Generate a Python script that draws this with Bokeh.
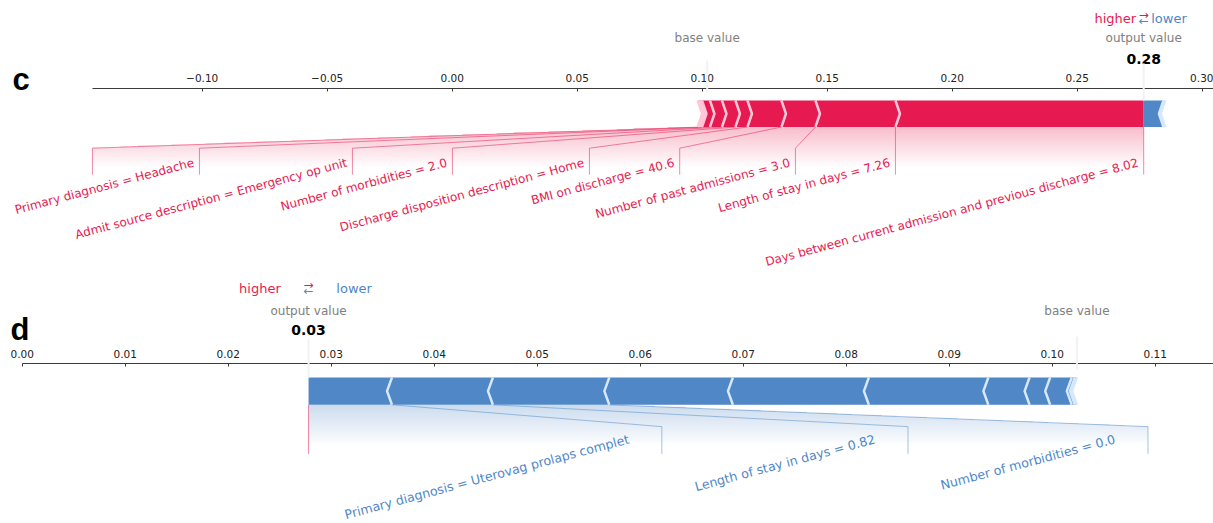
import numpy as np
from bokeh.plotting import figure
from bokeh.models import Range1d, LinearAxis, FixedTicker
from bokeh.layouts import column
from bokeh.core.properties import value
from bokeh.embed import file_html
from bokeh.resources import INLINE

# ---------------- data: panel c ----------------
c_base_value = 0.1020
c_output_value = 0.2766
c_pos_features = ["Days between current admission and previous discharge",
                  "Length of stay in days", "Number of past admissions",
                  "BMI on discharge", "Discharge disposition description",
                  "Number of morbidities", "Admit source description",
                  "Primary diagnosis"]
c_pos_feature_values = ["8.02", "7.26", "3.0", "40.6", "Home", "2.0",
                        "Emergency op unit", "Headache"]
c_pos_shap = [0.0993, 0.0320, 0.0136, 0.0136, 0.0048, 0.0054, 0.0048, 0.0032,
              0.0006, 0.0006, 0.0005]
c_neg_shap = [0.0079, 0.0004, 0.0003]
c_label_lines = [0.1773, 0.1373, 0.0910, 0.0549, 0.0001, -0.0399, -0.1011, -0.1439]
c_ticks = [-0.10, -0.05, 0.00, 0.05, 0.10, 0.15, 0.20, 0.25, 0.30]
c_tick_labels = ["\u22120.10", "\u22120.05", "0.00", "0.05", "0.10", "0.15",
                 "0.20", "0.25", "0.30"]

# ---------------- data: panel d ----------------
d_base_value = 0.1024
d_output_value = 0.0278
d_neg_features = ["Primary diagnosis", "Length of stay in days", "Number of morbidities"]
d_neg_feature_values = ["Uterovag prolaps complet", "0.82", "0.0"]
d_neg_shap = [0.0081, 0.0098, 0.0113, 0.0120, 0.0132, 0.0116, 0.0040, 0.0020,
              0.0021, 0.0003, 0.0002]
d_pos_shap = []
d_label_lines = [0.0621, 0.0860, 0.1093]
d_ticks = [0.00, 0.01, 0.02, 0.03, 0.04, 0.05, 0.06, 0.07, 0.08, 0.09, 0.10, 0.11]
d_tick_labels = ["0.00", "0.01", "0.02", "0.03", "0.04", "0.05", "0.06", "0.07",
                 "0.08", "0.09", "0.10", "0.11"]

# ---------------- style ----------------
RED = "#E61A50"
RED_RGB = (230, 26, 80)
RED_SEP = "#FFC8D8"
BLUE = "#4F87C7"
BLUE_RGB = (79, 135, 199)
BLUE_SEP = "#D6E8FA"
GRAY = "#808080"
FONT = "DejaVu Sans"
BW = 0.1  # bar thickness (plot units)


def bar_shapes(out, shap_vals, sign, w):
    b = out - sign * np.concatenate([[0.0], np.cumsum(shap_vals)])
    px, py, sx, sy = [], [], [], []
    for i in range(len(shap_vals)):
        near, far = b[i], b[i + 1]
        if i == 0:
            xs = [far, near, near, far, far + sign * w]
            ys = [0, 0, BW, BW, BW / 2]
        else:
            xs = [far, near, near + sign * w, near, far, far + sign * w]
            ys = [0, 0, BW / 2, BW, BW, BW / 2]
        px.append(xs)
        py.append(ys)
        sx.append([far, far + sign * w, far])
        sy.append([0, BW / 2, BW])
    return b, px, py, sx, sy


def gradient(p, out, pre_val, box_end, rgb):
    x_lo = min(out, pre_val, box_end)
    x_hi = max(out, pre_val, box_end)
    nx, ny = 1400, 90
    xs = np.linspace(x_lo, x_hi, nx)
    ys = np.linspace(-0.2, 0.0, ny)
    X, Y = np.meshgrid(xs, ys)
    frac = np.clip(Y / -0.08, 0, 1)
    edge = pre_val + (box_end - pre_val) * frac
    inside = (X - edge) * (X - out) <= 0
    t = np.clip(-Y / 0.155, 0, 1)
    alpha = 0.3 * (1 - t) * inside
    img = np.zeros((ny, nx, 4), dtype=np.uint8)
    img[..., 0] = rgb[0]
    img[..., 1] = rgb[1]
    img[..., 2] = rgb[2]
    img[..., 3] = (alpha * 255).astype(np.uint8)
    p.image_rgba(image=[img.view(np.uint32).reshape(ny, nx)], x=x_lo, y=-0.2,
                 dw=x_hi - x_lo, dh=0.2)


def make_panel(height, xr, yr, axis_y, axis_bounds, ticks, tick_labels,
               out, base, pos_shap, neg_shap, pos_names, pos_vals, pos_lines,
               neg_names, neg_vals, neg_lines, sep_w, gap_pos, gap_neg,
               hl_off, y_hl, y_txt, y_val, letter, letter_xy):
    p = figure(width=1213, height=height, x_range=Range1d(*xr), y_range=Range1d(*yr),
               toolbar_location=None, output_backend="svg",
               x_axis_location=None, y_axis_location=None, min_border=0)
    p.xgrid.visible = False
    p.ygrid.visible = False
    p.outline_line_color = None
    p.background_fill_color = "white"
    p.border_fill_color = "white"

    ax = LinearAxis(fixed_location=axis_y, ticker=FixedTicker(ticks=ticks),
                    major_label_overrides={t: l for t, l in zip(ticks, tick_labels)},
                    bounds=axis_bounds)
    ax.axis_line_color = "#3a3a3a"
    ax.axis_line_width = 1.2
    ax.major_tick_line_color = "#3a3a3a"
    ax.major_tick_in = 3
    ax.major_tick_out = 0
    ax.minor_tick_line_color = None
    ax.major_label_text_font = FONT
    ax.major_label_text_font_size = "10.5px"
    ax.major_label_text_color = "#222222"
    ax.major_label_standoff = 6
    p.add_layout(ax, "above")

    bp, ppx, ppy, psx, psy = bar_shapes(out, pos_shap, 1, sep_w)
    bn, npx, npy, nsx, nsy = bar_shapes(out, neg_shap, -1, sep_w)

    # shading below the bar, behind labels
    if len(pos_lines):
        gradient(p, out, bp[len(pos_lines)], pos_lines[-1], RED_RGB)
    if len(neg_lines):
        gradient(p, out, bn[len(neg_lines)], neg_lines[-1], BLUE_RGB)

    # connector lines
    lx = [[out, out]]
    ly = [[0, -0.18]]
    for i, l in enumerate(pos_lines):
        lx.append([bp[i + 1], l, l])
        ly.append([0, -0.08, -0.18])
    p.multi_line(xs=lx, ys=ly, line_color=RED, line_alpha=0.5, line_width=1)
    if len(neg_lines):
        nx_, ny_ = [], []
        for i, l in enumerate(neg_lines):
            nx_.append([bn[i + 1], l, l])
            ny_.append([0, -0.08, -0.18])
        p.multi_line(xs=nx_, ys=ny_, line_color=BLUE, line_alpha=0.5, line_width=1)

    # bars and separators
    if len(ppx):
        p.patches(xs=ppx, ys=ppy, fill_color=RED, line_color=None)
    if len(npx):
        p.patches(xs=npx, ys=npy, fill_color=BLUE, line_color=None)
    if len(psx):
        p.multi_line(xs=psx, ys=psy, line_color=RED_SEP, line_width=2.5)
    if len(nsx):
        p.multi_line(xs=nsx, ys=nsy, line_color=BLUE_SEP, line_width=2.5)

    # feature labels
    if len(pos_lines):
        starts = [out] + list(pos_lines[:-1])
        p.text(x=[s - gap_pos for s in starts], y=[-0.108] * len(starts),
               text=[f"{n} = {v}" for n, v in zip(pos_names, pos_vals)],
               text_font=value(FONT), text_font_size=value("12px"), text_color=RED,
               angle=15, angle_units="deg", text_align="right", text_baseline="top")
    if len(neg_lines):
        p.text(x=[l - gap_neg for l in neg_lines], y=[-0.098] * len(neg_lines),
               text=[f"{n} = {v}" for n, v in zip(neg_names, neg_vals)],
               text_font=value(FONT), text_font_size=value("12.6px"), text_color=BLUE,
               angle=15, angle_units="deg", text_align="right", text_baseline="top")

    # base / output markers
    r = p.multi_line(xs=[[base, base], [out, out]], ys=[[0.13, 0.25], [0.1, 0.24]],
                     line_color="#F2F2F2", line_width=2)
    r.level = "overlay"
    p.text(x=[base, out], y=[y_txt, y_txt], text=["base value", "output value"],
           text_font=value(FONT), text_font_size=value("12px"), text_color=GRAY,
           text_align="center", text_baseline="middle")
    p.text(x=[out], y=[y_val], text=[f"{out:.2f}"], text_font=value(FONT),
           text_font_size=value("14px"), text_font_style="bold", text_color="black",
           text_align="center", text_baseline="middle")
    p.text(x=[out - hl_off], y=[y_hl], text=["higher"], text_font=value(FONT),
           text_font_size=value("13px"), text_color=RED, text_align="right",
           text_baseline="middle")
    p.text(x=[out + hl_off], y=[y_hl], text=["lower"], text_font=value(FONT),
           text_font_size=value("13px"), text_color=BLUE, text_align="left",
           text_baseline="middle")
    p.text(x=[out], y=[y_hl + 0.014], text=["\u2192"], text_font=value(FONT),
           text_font_size=value("12px"), text_color=RED, text_align="center",
           text_baseline="middle")
    p.text(x=[out], y=[y_hl - 0.008], text=["\u2190"], text_font=value(FONT),
           text_font_size=value("12px"), text_color=BLUE, text_align="center",
           text_baseline="middle")
    p.text(x=[letter_xy[0]], y=[letter_xy[1]], text=[letter],
           text_font=value("Liberation Sans"), text_font_size=value("31px"),
           text_font_style="bold", text_color="black", text_align="left",
           text_baseline="alphabetic")
    return p


pc = make_panel(272, (-0.18068, 0.30452), (-0.5491, 0.4774), 0.1453,
                (-0.1439, 0.30452), c_ticks, c_tick_labels,
                c_output_value, c_base_value, c_pos_shap, c_neg_shap,
                c_pos_features, c_pos_feature_values, c_label_lines,
                [], [], [], 0.0018, 0.0030, 0.0,
                0.0030, 0.4094, 0.334, 0.2585, "c", (-0.1759, 0.1808))

pd_ = make_panel(251, (-0.002107, 0.11566), (-0.4348, 0.4846), 0.1502,
                 (0.0, 0.11566), d_ticks, d_tick_labels,
                 d_output_value, d_base_value, d_pos_shap, d_neg_shap,
                 [], [], [], d_neg_features, d_neg_feature_values, d_label_lines,
                 0.00048, 0.0, 0.0034,
                 0.0027, 0.426, 0.3454, 0.2722, "d", (-0.00114, 0.2758))

layout = column(pc, pd_, spacing=0)
open("out.html", "w").write(file_html(layout, INLINE))
